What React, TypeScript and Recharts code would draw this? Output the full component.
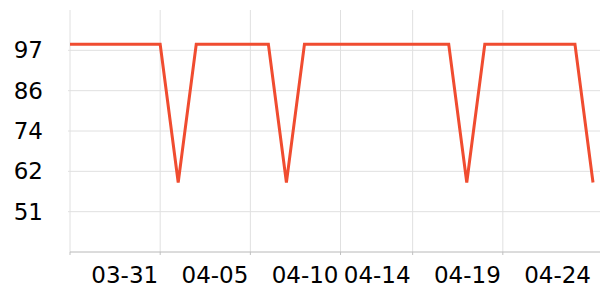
import { LineChart, Line, XAxis, YAxis, ReferenceLine } from 'recharts'

const dates = [
  '03-26', '03-27', '03-28', '03-29', '03-30', '03-31',
  '04-01', '04-02', '04-03', '04-04', '04-05', '04-06',
  '04-07', '04-08', '04-09', '04-10', '04-11', '04-12',
  '04-13', '04-14', '04-15', '04-16', '04-17', '04-18',
  '04-19', '04-20', '04-21', '04-22', '04-23', '04-24',
]

const values = [
  98.7, 98.7, 98.7, 98.7, 98.7, 98.7,
  59.3, 98.7, 98.7, 98.7, 98.7, 98.7,
  59.3, 98.7, 98.7, 98.7, 98.7, 98.7,
  98.7, 98.7, 98.7, 98.7, 59.3, 98.7,
  98.7, 98.7, 98.7, 98.7, 98.7, 59.3,
]

// grid lines / tick marks at gridDates, labels (drawn left of their date) at labelDates
const gridDates = ['03-26', '03-31', '04-05', '04-10', '04-14', '04-19']
const labelDates = ['03-31', '04-05', '04-10', '04-14', '04-19', '04-24']
const xTicks = ['03-26', '03-31', '04-05', '04-10', '04-14', '04-19', '04-24']

const yTicks = [51, 62.5, 74, 85.5, 97]
const yTickLabels = ['51', '62', '74', '86', '97']

const data = dates.map((date, i) => ({ date, value: values[i] }))

const FONT = '"DejaVu Sans", sans-serif'
const GRID = '#e0e0e0'

const DateTick = ({ x, y, payload }: any) => (
  <g>
    {gridDates.includes(payload.value) && (
      <line x1={x} y1={y} x2={x} y2={y + 3} stroke="#c0c0c0" />
    )}
    {labelDates.includes(payload.value) && (
      <text x={x - 2} y={y + 31} textAnchor="end" fontSize={23} fontFamily={FONT} fill="#000">
        {payload.value}
      </text>
    )}
  </g>
)

export default function App() {
  return (
    <div style={{ width: 600, height: 300 }}>
      <style>{'body{margin:0}'}</style>
      <LineChart
        width={600}
        height={300}
        data={data}
        accessibilityLayer={false}
        margin={{ top: 10, right: 0, left: 0, bottom: 0 }}
      >
        <XAxis
          dataKey="date"
          ticks={xTicks}
          interval={0}
          height={48}
          tickSize={0}
          tickMargin={0}
          tickLine={false}
          axisLine={{ stroke: '#b8b8b8' }}
          tick={<DateTick />}
          padding={{ left: 0, right: 7 }}
        />
        <YAxis
          type="number"
          domain={[39.5, 108.5]}
          ticks={yTicks}
          interval={0}
          width={70}
          tickSize={2}
          tickMargin={25}
          axisLine={false}
          tickLine={{ stroke: GRID }}
          tickFormatter={(_v: number, i: number) => yTickLabels[i]}
          tick={{ fontSize: 23, fontFamily: FONT, fill: '#000' }}
        />
        {yTicks.map((v) => (
          <ReferenceLine key={'h' + v} y={v} stroke={GRID} />
        ))}
        {gridDates.map((d) => (
          <ReferenceLine key={'v' + d} x={d} stroke={GRID} />
        ))}
        <Line
          type="linear"
          dataKey="value"
          stroke="#f04c30"
          strokeWidth={3}
          dot={false}
          isAnimationActive={false}
        />
      </LineChart>
    </div>
  )
}
